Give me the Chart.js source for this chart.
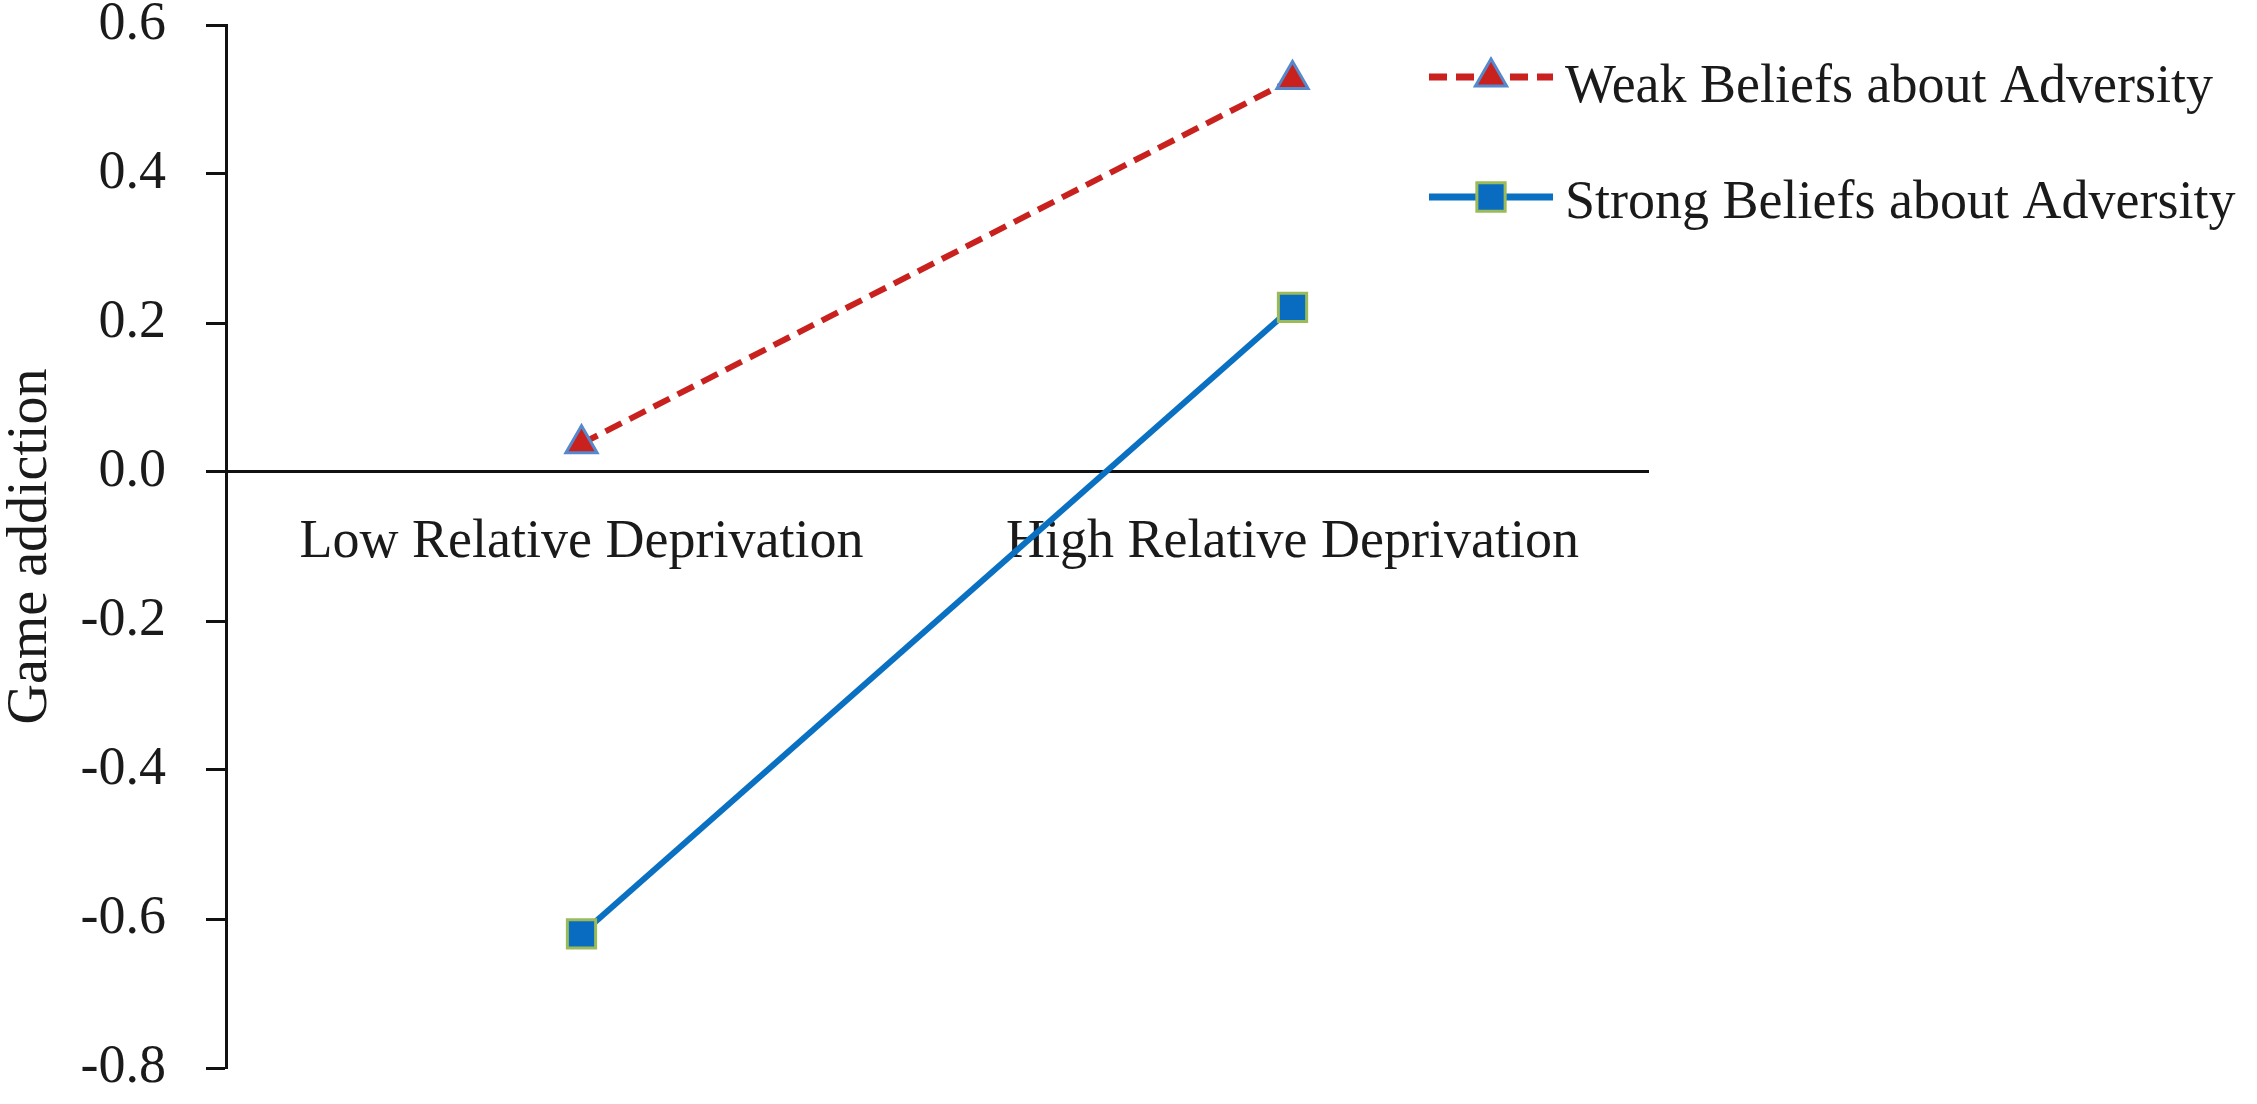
<!DOCTYPE html>
<html>
<head>
  <title>Game addiction</title>
  <script src="https://cdn.jsdelivr.net/npm/chart.js@4.4.1/dist/chart.umd.min.js"></script>
  <style>
    body {
      margin: 0;
      background: #fff;
    }
    .wrap {
      width: 2257px;
      height: 1104px;
    }
  </style>
</head>
<body>
  <div class="wrap">
    <canvas id="chart"></canvas>
  </div>

  <script>
    const categories = ['Low Relative Deprivation', 'High Relative Deprivation'];
    const weakBeliefs = [0.038, 0.527];
    const strongBeliefs = [-0.62, 0.221];
    const seriesNames = ['Weak Beliefs about Adversity', 'Strong Beliefs about Adversity'];
    const yTickValues = [-0.8, -0.6, -0.4, -0.2, 0.0, 0.2, 0.4, 0.6];
    const yTitle = 'Game addiction';

    const FONT = '"Liberation Serif", "Times New Roman", serif';
    const RED = '#C9211E';
    const BLUE = '#0A70C2';

    // small legend: line segment + marker + text, like the spreadsheet one
    function marker(ctx, style, x, y, r, fill, stroke, bw) {
      ctx.save();
      ctx.setLineDash([]);
      ctx.fillStyle = fill;
      ctx.strokeStyle = stroke;
      ctx.lineWidth = bw;
      ctx.beginPath();
      if (style === 'triangle') {
        ctx.moveTo(x, y - r);
        ctx.lineTo(x + r * 0.866, y + r * 0.5);
        ctx.lineTo(x - r * 0.866, y + r * 0.5);
        ctx.closePath();
      } else {
        const s = r * Math.SQRT1_2;
        ctx.rect(x - s, y - s, 2 * s, 2 * s);
      }
      ctx.fill();
      ctx.stroke();
      ctx.restore();
    }

    const lineLegend = {
      id: 'lineLegend',
      afterDraw(chart) {
        const ctx = chart.ctx;
        const rows = [77, 197];
        const baselines = [102, 218];
        chart.data.datasets.forEach((ds, i) => {
          const y = rows[i];
          ctx.save();
          ctx.strokeStyle = ds.borderColor;
          ctx.lineWidth = ds.borderWidth + 1;
          ctx.setLineDash(ds.borderDash || []);
          ctx.beginPath();
          ctx.moveTo(1429, y);
          ctx.lineTo(1553, y);
          ctx.stroke();
          ctx.restore();
          marker(ctx, ds.pointStyle, 1491, y, ds.pointRadius,
            ds.pointBackgroundColor, ds.pointBorderColor, ds.pointBorderWidth);
          ctx.save();
          ctx.fillStyle = '#1a1a1a';
          ctx.font = '54px ' + FONT;
          ctx.textBaseline = 'alphabetic';
          ctx.textAlign = 'left';
          ctx.fillText(ds.label, 1565, baselines[i]);
          ctx.restore();
        });
      }
    };

    const ctx = document.getElementById('chart').getContext('2d');
    new Chart(ctx, {
      type: 'line',
      data: {
        labels: categories,
        datasets: [{
          label: seriesNames[0],
          data: weakBeliefs,
          borderColor: RED,
          borderWidth: 6,
          borderDash: [18, 9],
          pointStyle: 'triangle',
          pointRadius: 18,
          pointBackgroundColor: RED,
          pointBorderColor: '#5588CC',
          pointBorderWidth: 3,
          fill: false,
          tension: 0
        }, {
          label: seriesNames[1],
          data: strongBeliefs,
          borderColor: BLUE,
          borderWidth: 6,
          pointStyle: 'rect',
          pointRadius: 20,
          pointBackgroundColor: '#0A6CC0',
          pointBorderColor: '#9BBB59',
          pointBorderWidth: 3,
          fill: false,
          tension: 0
        }]
      },
      options: {
        responsive: true,
        maintainAspectRatio: false,
        animation: false,
        layout: {
          autoPadding: false,
          padding: { top: 25, bottom: 36, left: 0, right: 609 }
        },
        plugins: {
          legend: { display: false },
          tooltip: { enabled: false }
        },
        scales: {
          x: {
            position: { y: 0 },
            offset: true,
            // axis sits on y = 0, so it must not take layout room
            afterFit(scale) { scale.height = 0; },
            grid: { display: false, drawTicks: false },
            border: { display: true, color: '#111', width: 3 },
            ticks: {
              color: '#1a1a1a',
              font: { family: FONT, size: 54 },
              padding: 38,
              maxRotation: 0,
              autoSkip: false
            }
          },
          y: {
            min: -0.8,
            max: 0.6,
            afterFit(scale) {
              scale.width = 226;
              // label padding would otherwise push the plot inward
              scale.paddingTop = 0;
              scale.paddingBottom = 0;
            },
            afterBuildTicks(scale) {
              scale.ticks = yTickValues.map(v => ({ value: v }));
            },
            grid: {
              display: true,
              drawOnChartArea: false,
              drawTicks: true,
              tickLength: 20,
              tickWidth: 3,
              tickColor: '#111'
            },
            border: { display: true, color: '#111', width: 3 },
            ticks: {
              color: '#1a1a1a',
              font: { family: FONT, size: 54 },
              padding: 40,
              callback: v => v.toFixed(1)
            },
            title: {
              display: true,
              text: yTitle,
              color: '#1a1a1a',
              font: { family: FONT, size: 56, lineHeight: 1.1 },
              padding: { top: 0, bottom: 0 }
            }
          }
        }
      },
      plugins: [lineLegend]
    });
  </script>
</body>
</html>
